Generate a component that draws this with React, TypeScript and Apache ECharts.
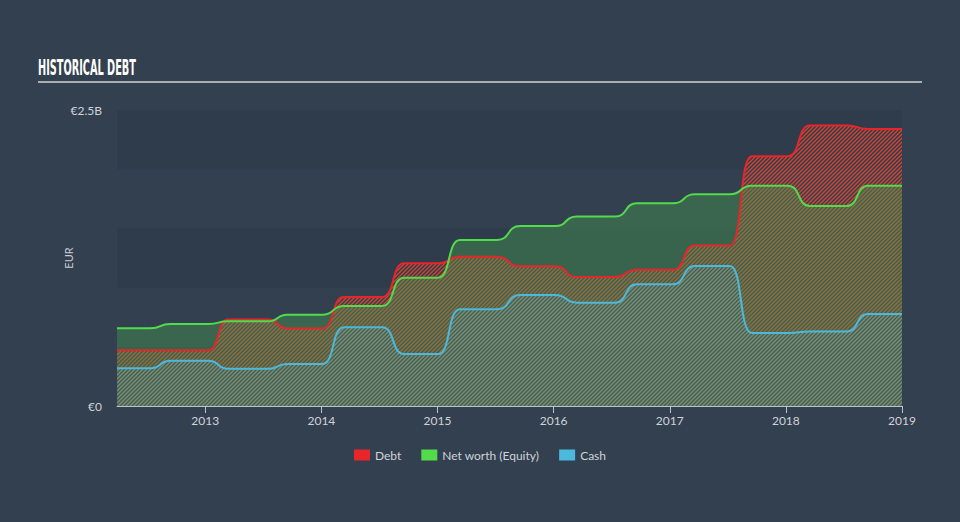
import React, { useEffect, useRef } from "react";
import * as echarts from "echarts";

// Transition windows (decimal years) between semi-annual reporting levels
const axisStart = 2012.24;
const axisEnd = 2019.0;
const stepStart = [2012.527, 2013.026, 2013.542, 2014.007, 2014.523, 2015.005, 2015.513, 2016.012, 2016.528, 2017.028, 2017.518, 2018.017, 2018.525];
const stepEnd = [2012.699, 2013.198, 2013.706, 2014.196, 2014.713, 2015.194, 2015.711, 2016.201, 2016.718, 2017.217, 2017.707, 2018.207, 2018.706];

// Levels in billions EUR for each period
const debtLevels = [0.47, 0.47, 0.73, 0.655, 0.92, 1.205, 1.26, 1.18, 1.09, 1.15, 1.355, 2.11, 2.37, 2.34];
const equityLevels = [0.656, 0.693, 0.715, 0.771, 0.845, 1.084, 1.402, 1.52, 1.6, 1.712, 1.788, 1.861, 1.69, 1.86];
const cashLevels = [0.318, 0.383, 0.315, 0.355, 0.665, 0.439, 0.817, 0.9375, 0.873, 1.028, 1.182, 0.617, 0.63, 0.777];

const yearTicks = [2013, 2014, 2015, 2016, 2017, 2018, 2019];
const seriesNames = ["Debt", "Net worth (Equity)", "Cash"];
const seriesColors = ["#e8262a", "#52db4a", "#4cb8dc"];

function buildPoints(levels: number[]): number[][] {
  const pts: number[][] = [[axisStart, levels[0]]];
  for (let i = 0; i < stepStart.length; i++) {
    pts.push([stepStart[i], levels[i]]);
    pts.push([stepEnd[i], levels[i + 1]]);
  }
  pts.push([axisEnd, levels[levels.length - 1]]);
  return pts;
}

function makeHatch(color: string, size: number, width: number): HTMLCanvasElement {
  const c = document.createElement("canvas");
  c.width = size;
  c.height = size;
  const ctx = c.getContext("2d")!;
  ctx.strokeStyle = color;
  ctx.lineWidth = width;
  ctx.beginPath();
  ctx.moveTo(0, size);
  ctx.lineTo(size, 0);
  ctx.moveTo(-size, size);
  ctx.lineTo(size, -size);
  ctx.moveTo(0, 2 * size);
  ctx.lineTo(2 * size, 0);
  ctx.stroke();
  return c;
}

export default function App() {
  const ref = useRef<HTMLDivElement>(null);
  useEffect(() => {
    document.body.style.margin = "0";
    const el = ref.current!;
    const chart = echarts.init(el, null, { renderer: "svg" });

    const titleText = "HISTORICAL DEBT";
    const titleFont = "bold 21px 'DejaVu Sans Condensed', 'DejaVu Sans', sans-serif";
    const mc = document.createElement("canvas").getContext("2d")!;
    mc.font = titleFont;
    const tw = mc.measureText(titleText).width || 150;
    const titleScale = 98 / tw;

    const debtHatch = makeHatch("rgba(238,70,45,0.85)", 4, 1.3);
    const cashHatch = makeHatch("rgba(95,170,190,0.5)", 4, 1.3);

    const option: any = {
      animation: false,
      backgroundColor: "#334050",
      textStyle: { fontFamily: "Lato, 'Open Sans', sans-serif" },
      grid: { left: 117, right: 58, top: 110, bottom: 116, containLabel: false },
      graphic: [
        {
          type: "text",
          x: 38,
          y: 67,
          scaleX: titleScale,
          style: {
            text: titleText,
            font: titleFont,
            fill: "#ffffff",
            verticalAlign: "middle",
            align: "left",
          },
        },
        {
          type: "line",
          shape: { x1: 38, y1: 82, x2: 922, y2: 82 },
          style: { stroke: "#a9aeb4", lineWidth: 2 },
        },
      ],
      legend: {
        bottom: 56,
        left: "center",
        itemWidth: 16,
        itemHeight: 11,
        itemGap: 20,
        textStyle: { color: "#cfd3d8", fontSize: 12, fontFamily: "Lato, sans-serif" },
        data: seriesNames.map((n, i) => ({ name: n, icon: "rect", itemStyle: { color: seriesColors[i] } })),
      },
      xAxis: {
        type: "value",
        min: axisStart,
        max: axisEnd,
        axisLine: { show: true, lineStyle: { color: "#b9c6d0", width: 1 } },
        axisTick: { show: true, length: 7, customValues: yearTicks, lineStyle: { color: "#b9c6d0" } },
        axisLabel: {
          customValues: yearTicks,
          color: "#cfd3d8",
          fontSize: 12,
          margin: 8,
          formatter: (v: number) => String(Math.round(v)),
        },
        splitLine: { show: false },
      },
      yAxis: {
        type: "value",
        min: 0,
        max: 2.5,
        interval: 0.5,
        name: "EUR",
        nameLocation: "middle",
        nameGap: 43,
        nameMoveOverlap: false,
        nameTextStyle: { color: "#c8ccd0", fontSize: 11 },
        axisLine: { show: false },
        axisTick: { show: false },
        axisLabel: {
          color: "#cfd3d8",
          fontSize: 12,
          margin: 15,
          formatter: (v: number) => (v === 0 ? "€0" : Math.abs(v - 2.5) < 1e-9 ? "€2.5B" : ""),
        },
        splitLine: { show: false },
        splitArea: { show: true, areaStyle: { color: ["rgba(20,30,45,0.1)", "rgba(0,0,0,0)"] } },
      },
      series: [
        {
          name: seriesNames[0],
          type: "line",
          data: buildPoints(debtLevels),
          showSymbol: false,
          smooth: 0.6,
          smoothMonotone: "x",
          color: seriesColors[0],
          lineStyle: { color: seriesColors[0], width: 2 },
          areaStyle: { color: { image: debtHatch, repeat: "repeat" }, opacity: 1 },
        },
        {
          name: seriesNames[1],
          type: "line",
          data: buildPoints(equityLevels),
          showSymbol: false,
          smooth: 0.6,
          smoothMonotone: "x",
          color: seriesColors[1],
          lineStyle: { color: seriesColors[1], width: 2 },
          areaStyle: { color: "rgba(70,160,80,0.4)", opacity: 1 },
        },
        {
          name: seriesNames[2],
          type: "line",
          data: buildPoints(cashLevels),
          showSymbol: false,
          smooth: 0.6,
          smoothMonotone: "x",
          color: seriesColors[2],
          lineStyle: { color: seriesColors[2], width: 2 },
          areaStyle: { color: { image: cashHatch, repeat: "repeat" }, opacity: 1 },
        },
      ],
    };
    chart.setOption(option);
    return () => chart.dispose();
  }, []);
  return <div ref={ref} style={{ width: 960, height: 522 }} />;
}
